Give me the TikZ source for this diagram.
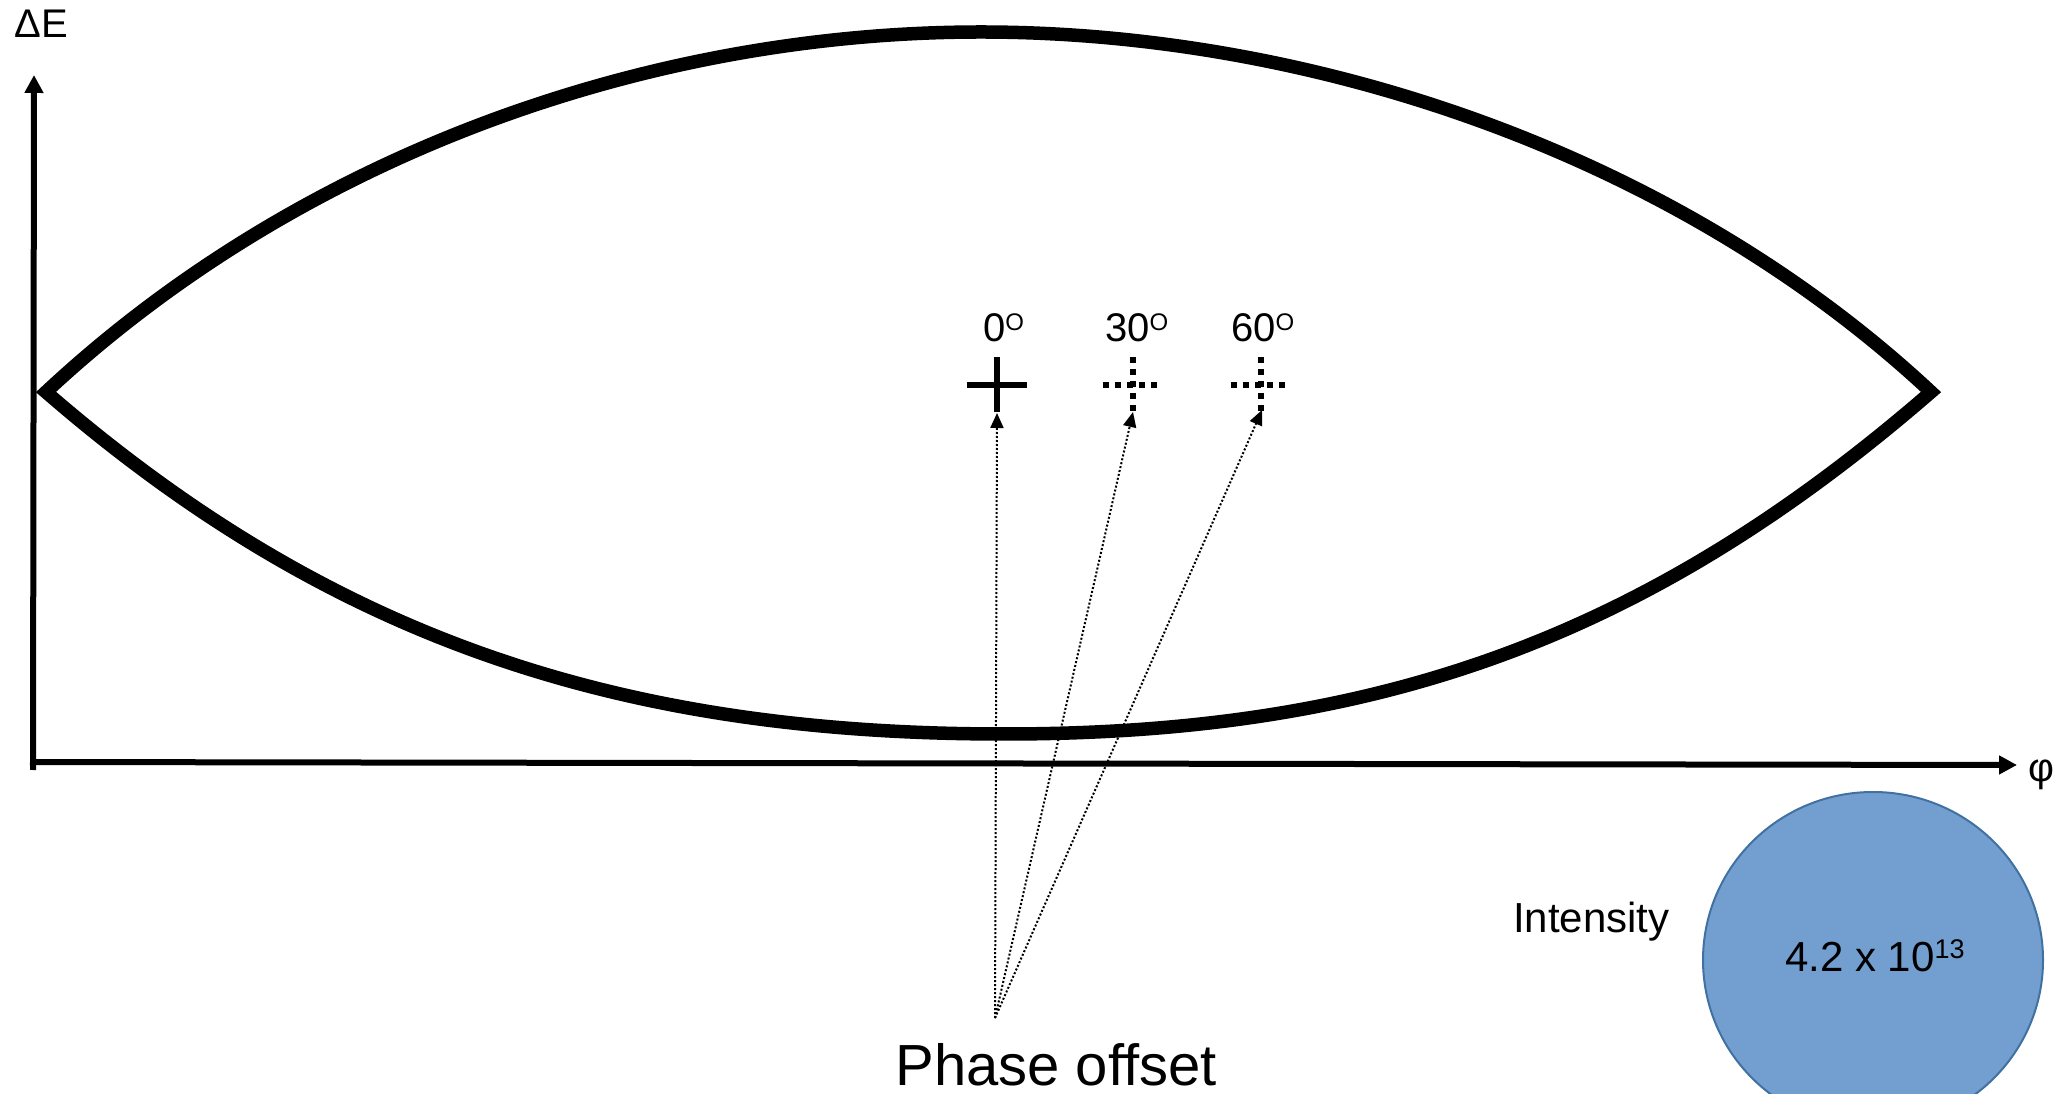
\documentclass[tikz,border=0pt]{standalone}
\usepackage{fontspec}
\setmainfont{Liberation Sans}
\usetikzlibrary{arrows.meta,shapes.geometric}
\definecolor{ellfill}{RGB}{114,159,207}
\definecolor{ellline}{RGB}{65,113,160}
\newcommand{\fs}[1]{\fontsize{#1}{#1}\selectfont}
\begin{document}
\begin{tikzpicture}[x=1pt,y=1pt,
  axis/.style={line width=6pt,-{Triangle[length=18pt,width=18pt]}},
  lens/.style={line width=13.5pt,line join=miter},
  solidcross/.style={line width=6pt},
  dotcross/.style={line width=6pt,dash pattern=on 6pt off 6pt},
  pointer/.style={line width=2pt,dash pattern=on 2pt off 2pt,-{Triangle[length=15pt,width=13pt]}},
  lbl/.style={inner sep=0pt,anchor=base west}]
\useasboundingbox (0,0) rectangle (2071,1093);
% intensity ellipse
\node[draw=ellline,line width=2pt,fill=ellfill,ellipse,minimum width=340pt,minimum height=336pt,inner sep=0pt] (int) at (1873,133) {};
% axes
\coordinate (o) at (33,323);
\coordinate (ytip) at (34,1018);
\coordinate (xo) at (30,331);
\coordinate (xtip) at (2017,328);
\draw[axis] (o) -- (ytip);
\draw[axis] (xo) -- (xtip);
\node[inner sep=0pt,anchor=base] (dE) at (41,1055) {\fs{40}ΔE};
\node[inner sep=0pt] (phi) at (2041,318) {\fs{40}φ};
% lens
\draw[lens] (46,701) .. controls (302,940) and (651,1061) .. (981,1061)
  .. controls (1311,1061) and (1675,940) .. (1931,701)
  .. controls (1644,452) and (1374,359) .. (1004,359)
  .. controls (624,359) and (333,452) .. cycle;
% crosses
\coordinate (c0) at (997,708);
\coordinate (c30) at (1133,708);
\coordinate (c60) at (1261,708);
\draw[solidcross] (967,708) -- (1027,708);
\draw[solidcross] (997,736) -- (997,681);
\draw[dotcross] (1103,708) -- (1160,708);
\draw[dotcross] (1133,736) -- (1133,679);
\draw[dotcross] (1231,708) -- (1288,708);
\draw[dotcross] (1261,736) -- (1261,679);
% labels
\node[lbl] (l0) at (983,751) {\fs{40}0\fs{24}\raisebox{11.4pt}{O}};
\node[lbl] (l30) at (1105,751) {\fs{40}30\fs{24}\raisebox{11.4pt}{O}};
\node[lbl] (l60) at (1231,751) {\fs{40}60\fs{24}\raisebox{11.4pt}{O}};
% pointers
\coordinate (src) at (995,75);
\coordinate (t0) at (997,680);
\coordinate (t30) at (1133,681);
\coordinate (t60) at (1262,683);
\draw[pointer] (src) -- (t0);
\draw[pointer] (src) -- (t30);
\draw[pointer] (src) -- (t60);
\node[inner sep=0pt,anchor=base] (po) at (1056,8) {\fs{58}Phase offset};
\node[lbl] (it) at (1513,161) {\fs{42}Intensity};
\node[lbl] (val) at (1785,122) {\fs{42}4.2 x 10\fs{27}\raisebox{12.8pt}{13}};
\end{tikzpicture}
\end{document}
